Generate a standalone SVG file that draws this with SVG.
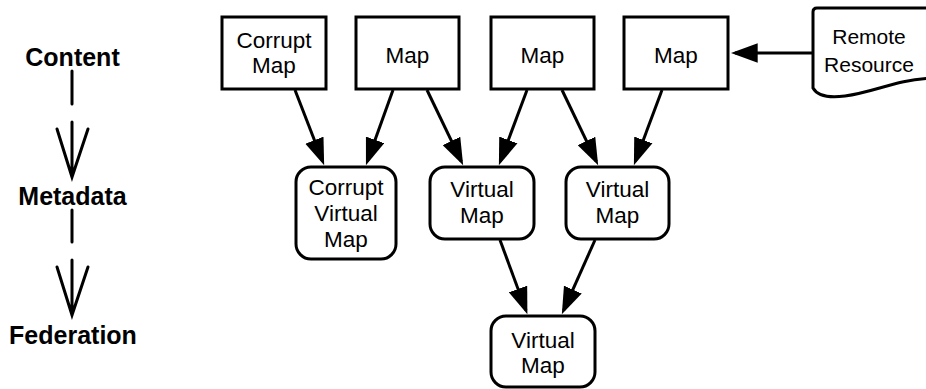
<svg xmlns="http://www.w3.org/2000/svg" width="926" height="389" viewBox="0 0 926 389">
  <defs>
    <style>
      .box { fill: #ffffff; stroke: #000000; stroke-width: 3; }
      .lbl { font-family: "Liberation Sans", Arial, Helvetica, sans-serif; font-size: 22.5px; fill: #000000; text-anchor: middle; }
      .small { font-size: 21px; }
      .legend { font-family: "Liberation Sans", Arial, Helvetica, sans-serif; font-size: 25px; font-weight: bold; fill: #000000; text-anchor: middle; }
      .edge { stroke: #000000; stroke-width: 3; fill: none; marker-end: url(#head); }
      .stage { stroke: #000000; stroke-width: 3; fill: none; stroke-linecap: round; stroke-linejoin: miter; }
    </style>
    <marker id="head" markerUnits="userSpaceOnUse" markerWidth="27" markerHeight="20" viewBox="0 0 25 18" refX="21" refY="9" orient="auto">
      <path d="M0,0 L25,9 L0,18 Z" fill="#000000"/>
    </marker>
  </defs>

  <!-- stage legend on the left -->
  <g id="legend">
    <text class="legend" x="72.5" y="66">Content</text>
    <line class="stage" x1="72" y1="71" x2="72" y2="104"/>
    <path class="stage" d="M72,122 L72,176 M57,129 L72,177 L88,129"/>
    <text class="legend" x="72.5" y="205">Metadata</text>
    <line class="stage" x1="72" y1="210" x2="72" y2="242"/>
    <path class="stage" d="M72,260 L72,314 M57,267 L72,315 L88,267"/>
    <text class="legend" x="73" y="344">Federation</text>
  </g>

  <!-- connectors -->
  <g id="connectors">
    <line class="edge" x1="295" y1="90" x2="322.6" y2="161.3"/>
    <line class="edge" x1="393" y1="90" x2="367.4" y2="161.2"/>
    <line class="edge" x1="427" y1="90" x2="461.3" y2="161.4"/>
    <line class="edge" x1="527" y1="90" x2="500.4" y2="161.2"/>
    <line class="edge" x1="562" y1="90" x2="596.3" y2="161.4"/>
    <line class="edge" x1="662" y1="90" x2="635.4" y2="161.2"/>
    <line class="edge" x1="500" y1="240" x2="525.9" y2="310.3"/>
    <line class="edge" x1="595" y1="240" x2="563.6" y2="310.3"/>
    <line class="edge" x1="813" y1="53" x2="735" y2="53"/>
  </g>

  <!-- content maps -->
  <g id="corrupt-map">
    <rect class="box" x="222" y="17" width="104" height="72"/>
    <text class="lbl" x="274" y="48">Corrupt</text>
    <text class="lbl" x="274" y="73">Map</text>
  </g>
  <g id="map-1">
    <rect class="box" x="356" y="17" width="103" height="72"/>
    <text class="lbl" x="407.5" y="63">Map</text>
  </g>
  <g id="map-2">
    <rect class="box" x="491" y="17" width="103" height="72"/>
    <text class="lbl" x="542.5" y="63">Map</text>
  </g>
  <g id="map-3">
    <rect class="box" x="624" y="17" width="104" height="72"/>
    <text class="lbl" x="676" y="63">Map</text>
  </g>
  <g id="remote-resource">
    <path class="box" d="M813,88 L813,12 Q813,8 817,8 L932,8 L932,78 C895,80 875,92 845,96 C830,98 818,97 813,88 Z"/>
    <text class="lbl small" x="869" y="44">Remote</text>
    <text class="lbl small" x="869" y="72">Resource</text>
  </g>

  <!-- metadata virtual maps -->
  <g id="corrupt-virtual-map">
    <rect class="box" x="296" y="167" width="100" height="92" rx="15" ry="15"/>
    <text class="lbl" x="346" y="195">Corrupt</text>
    <text class="lbl" x="346" y="221">Virtual</text>
    <text class="lbl" x="346" y="247">Map</text>
  </g>
  <g id="virtual-map-1">
    <rect class="box" x="430" y="167" width="104" height="72" rx="15" ry="15"/>
    <text class="lbl" x="482" y="197">Virtual</text>
    <text class="lbl" x="482" y="223">Map</text>
  </g>
  <g id="virtual-map-2">
    <rect class="box" x="566" y="167" width="103" height="72" rx="15" ry="15"/>
    <text class="lbl" x="617.5" y="197">Virtual</text>
    <text class="lbl" x="617.5" y="223">Map</text>
  </g>

  <!-- federated virtual map -->
  <g id="virtual-map-federated">
    <rect class="box" x="491" y="316" width="104" height="71" rx="15" ry="15"/>
    <text class="lbl" x="543" y="348">Virtual</text>
    <text class="lbl" x="543" y="373">Map</text>
  </g>
</svg>
